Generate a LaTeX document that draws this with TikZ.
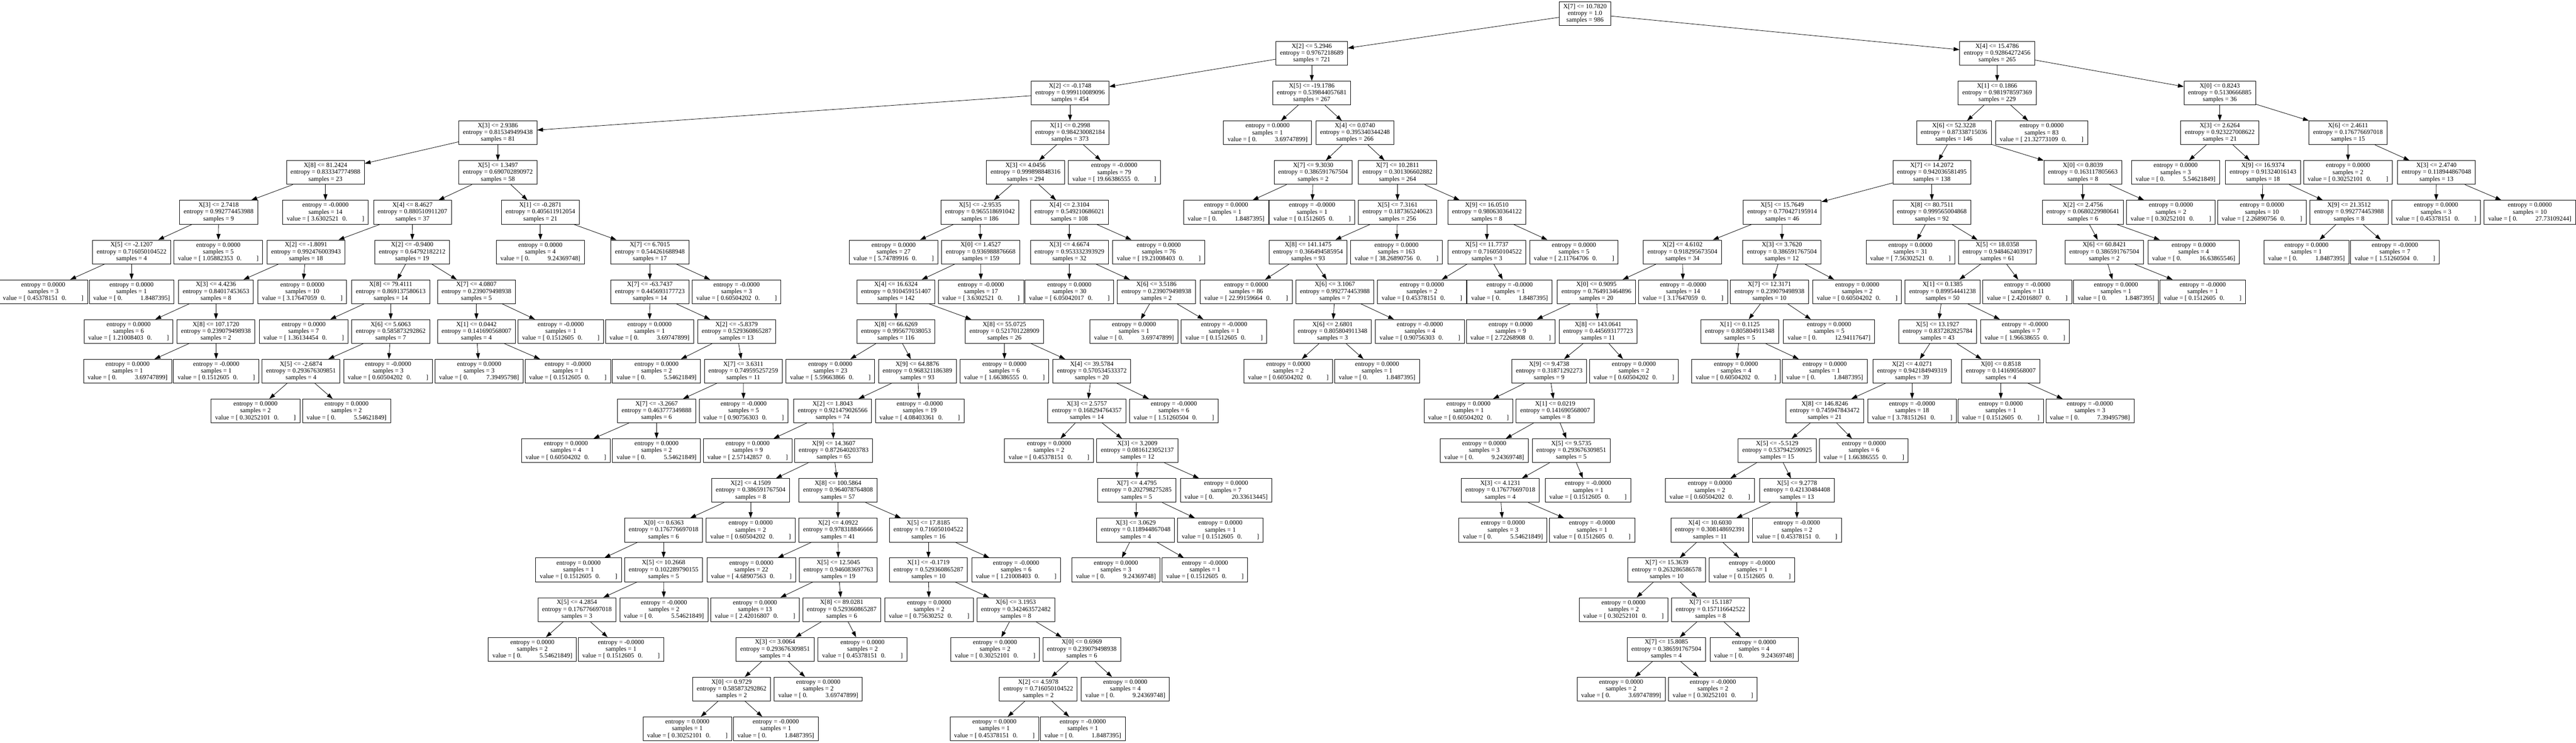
\documentclass[tikz,border=0pt]{standalone}
\usepackage{fontspec}
\setmainfont{Liberation Serif}
\usetikzlibrary{arrows.meta}

\newcommand{\spl}[3]{#1\\entropy = #2\\samples = #3}
\newcommand{\lfa}[3]{entropy = #1\\samples = #2\\value = [ #3\hspace{0.6em}0.\hspace{2.3em}]}
\newcommand{\lfb}[3]{entropy = #1\\samples = #2\\value = [ 0.\hspace{2.8em}#3]}

\tikzset{
  dtbox/.style={draw, line width=0.4pt, align=center, minimum height=0.71cm,
    inner xsep=3.5pt, inner ysep=0pt, font=\fontsize{5.45}{5.8}\selectfont},
  dtarrow/.style={-{Triangle[length=5pt,width=3.4pt]}, line width=0.35pt}
}

\begin{document}
\begin{tikzpicture}[x=0.01cm, y=-1.186cm]
     \fill[white] (0,-0.3415) rectangle (7694,18.352);
     \useasboundingbox (0,-0.3415) rectangle (7694,18.352);
     \node[dtbox] (n0) at (4734,0) {\spl{X[7] <= 10.7820}{1.0}{986}};
     \node[dtbox] (n1) at (3918,1) {\spl{X[2] <= 5.2946}{0.9767218689}{721}};
     \node[dtbox] (n2) at (3196,2) {\spl{X[2] <= -0.1748}{0.999110089096}{454}};
     \node[dtbox] (n3) at (1487,3) {\spl{X[3] <= 2.9386}{0.815349499438}{81}};
     \node[dtbox] (n4) at (972,4) {\spl{X[8] <= 81.2424}{0.833347774988}{23}};
     \node[dtbox] (n5) at (653,5) {\spl{X[3] <= 2.7418}{0.992774453988}{9}};
     \node[dtbox] (n6) at (393,6) {\spl{X[5] <= -2.1207}{0.716050104522}{4}};
     \node[dtbox] (n7) at (129,7) {\lfa{0.0000}{3}{0.45378151}};
     \node[dtbox] (n8) at (393,7) {\lfb{0.0000}{1}{1.8487395}};
     \node[dtbox] (n9) at (652,6) {\lfa{0.0000}{5}{1.05882353}};
     \node[dtbox] (n10) at (972,5) {\lfa{-0.0000}{14}{3.6302521}};
     \node[dtbox] (n11) at (1487,4) {\spl{X[5] <= 1.3497}{0.690702890972}{58}};
     \node[dtbox] (n12) at (1232,5) {\spl{X[4] <= 8.4627}{0.880510911207}{37}};
     \node[dtbox] (n13) at (914,6) {\spl{X[2] <= -1.8091}{0.992476003943}{18}};
     \node[dtbox] (n14) at (645,7) {\spl{X[3] <= 4.4236}{0.84017453653}{8}};
     \node[dtbox] (n15) at (384,8) {\lfa{0.0000}{6}{1.21008403}};
     \node[dtbox] (n16) at (645,8) {\spl{X[8] <= 107.1720}{0.239079498938}{2}};
     \node[dtbox] (n17) at (381,9) {\lfb{0.0000}{1}{3.69747899}};
     \node[dtbox] (n18) at (646,9) {\lfa{-0.0000}{1}{0.1512605}};
     \node[dtbox] (n19) at (903,7) {\lfa{0.0000}{10}{3.17647059}};
     \node[dtbox] (n20) at (1231,6) {\spl{X[2] <= -0.9400}{0.64792182212}{19}};
     \node[dtbox] (n21) at (1167,7) {\spl{X[8] <= 79.4111}{0.869137580613}{14}};
     \node[dtbox] (n22) at (907,8) {\lfa{0.0000}{7}{1.36134454}};
     \node[dtbox] (n23) at (1167,8) {\spl{X[6] <= 5.6063}{0.585873292862}{7}};
     \node[dtbox] (n24) at (899,9) {\spl{X[5] <= -2.6874}{0.293676309851}{4}};
     \node[dtbox] (n25) at (763,10) {\lfa{0.0000}{2}{0.30252101}};
     \node[dtbox] (n26) at (1035,10) {\lfb{0.0000}{2}{5.54621849}};
     \node[dtbox] (n27) at (1159,9) {\lfa{-0.0000}{3}{0.60504202}};
     \node[dtbox] (n28) at (1423,7) {\spl{X[7] <= 4.0807}{0.239079498938}{5}};
     \node[dtbox] (n29) at (1423,8) {\spl{X[1] <= 0.0442}{0.141690568007}{4}};
     \node[dtbox] (n30) at (1431,9) {\lfb{0.0000}{3}{7.39495798}};
     \node[dtbox] (n31) at (1696,9) {\lfa{-0.0000}{1}{0.1512605}};
     \node[dtbox] (n32) at (1675,8) {\lfa{-0.0000}{1}{0.1512605}};
     \node[dtbox] (n33) at (1614,5) {\spl{X[1] <= -0.2871}{0.405611912054}{21}};
     \node[dtbox] (n34) at (1614,6) {\lfb{0.0000}{4}{9.24369748}};
     \node[dtbox] (n35) at (1941,6) {\spl{X[7] <= 6.7015}{0.544261688948}{17}};
     \node[dtbox] (n36) at (1941,7) {\spl{X[7] <= -63.7437}{0.445693177723}{14}};
     \node[dtbox] (n37) at (1940,8) {\lfb{0.0000}{1}{3.69747899}};
     \node[dtbox] (n38) at (2200,8) {\spl{X[2] <= -5.8379}{0.529360865287}{13}};
     \node[dtbox] (n39) at (1961,9) {\lfb{0.0000}{2}{5.54621849}};
     \node[dtbox] (n40) at (2220,9) {\spl{X[7] <= 3.6311}{0.749595257259}{11}};
     \node[dtbox] (n41) at (1961,10) {\spl{X[7] <= -3.2667}{0.463777349888}{6}};
     \node[dtbox] (n42) at (1690,11) {\lfa{0.0000}{4}{0.60504202}};
     \node[dtbox] (n43) at (1961,11) {\lfb{0.0000}{2}{5.54621849}};
     \node[dtbox] (n44) at (2221,10) {\lfa{-0.0000}{5}{0.90756303}};
     \node[dtbox] (n45) at (2200,7) {\lfa{-0.0000}{3}{0.60504202}};
     \node[dtbox] (n46) at (3196,3) {\spl{X[1] <= 0.2998}{0.984230082184}{373}};
     \node[dtbox] (n47) at (3063,4) {\spl{X[3] <= 4.0456}{0.999898848316}{294}};
     \node[dtbox] (n48) at (2927,5) {\spl{X[5] <= -2.9535}{0.965518691042}{186}};
     \node[dtbox] (n49) at (2669,6) {\lfa{0.0000}{27}{5.74789916}};
     \node[dtbox] (n50) at (2929,6) {\spl{X[0] <= 1.4527}{0.936988876668}{159}};
     \node[dtbox] (n51) at (2676,7) {\spl{X[4] <= 16.6324}{0.910459151407}{142}};
     \node[dtbox] (n52) at (2676,8) {\spl{X[8] <= 66.6269}{0.995677038053}{116}};
     \node[dtbox] (n53) at (2480,9) {\lfa{0.0000}{23}{5.59663866}};
     \node[dtbox] (n54) at (2740,9) {\spl{X[9] <= 64.8876}{0.968321186389}{93}};
     \node[dtbox] (n55) at (2487,10) {\spl{X[2] <= 1.8043}{0.921479026566}{74}};
     \node[dtbox] (n56) at (2233,11) {\lfa{0.0000}{9}{2.57142857}};
     \node[dtbox] (n57) at (2490,11) {\spl{X[9] <= 14.3607}{0.872640203783}{65}};
     \node[dtbox] (n58) at (2242,12) {\spl{X[2] <= 4.1509}{0.386591767504}{8}};
     \node[dtbox] (n59) at (1982,13) {\spl{X[0] <= 0.6363}{0.176776697018}{6}};
     \node[dtbox] (n60) at (1728,14) {\lfa{0.0000}{1}{0.1512605}};
     \node[dtbox] (n61) at (1982,14) {\spl{X[5] <= 10.2668}{0.102289790155}{5}};
     \node[dtbox] (n62) at (1723,15) {\spl{X[5] <= 4.2854}{0.176776697018}{3}};
     \node[dtbox] (n63) at (1590,16) {\lfb{0.0000}{2}{5.54621849}};
     \node[dtbox] (n64) at (1855,16) {\lfa{-0.0000}{1}{0.1512605}};
     \node[dtbox] (n65) at (1983,15) {\lfb{-0.0000}{2}{5.54621849}};
     \node[dtbox] (n66) at (2242,13) {\lfa{0.0000}{2}{0.60504202}};
     \node[dtbox] (n67) at (2503,12) {\spl{X[8] <= 100.5864}{0.964078764808}{57}};
     \node[dtbox] (n68) at (2503,13) {\spl{X[2] <= 4.0922}{0.978318846666}{41}};
     \node[dtbox] (n69) at (2244,14) {\lfa{0.0000}{22}{4.68907563}};
     \node[dtbox] (n70) at (2504,14) {\spl{X[5] <= 12.5045}{0.946083697763}{19}};
     \node[dtbox] (n71) at (2255,15) {\lfa{0.0000}{13}{2.42016807}};
     \node[dtbox] (n72) at (2514,15) {\spl{X[8] <= 89.0281}{0.529360865287}{6}};
     \node[dtbox] (n73) at (2315,16) {\spl{X[3] <= 3.0064}{0.293676309851}{4}};
     \node[dtbox] (n74) at (2185,17) {\spl{X[0] <= 0.9729}{0.585873292862}{2}};
     \node[dtbox] (n75) at (2053,18) {\lfa{0.0000}{1}{0.30252101}};
     \node[dtbox] (n76) at (2317,18) {\lfb{-0.0000}{1}{1.8487395}};
     \node[dtbox] (n77) at (2444,17) {\lfb{0.0000}{2}{3.69747899}};
     \node[dtbox] (n78) at (2576,16) {\lfa{0.0000}{2}{0.45378151}};
     \node[dtbox] (n79) at (2773,13) {\spl{X[5] <= 17.8185}{0.716050104522}{16}};
     \node[dtbox] (n80) at (2773,14) {\spl{X[1] <= -0.1719}{0.529360865287}{10}};
     \node[dtbox] (n81) at (2775,15) {\lfa{0.0000}{2}{0.75630252}};
     \node[dtbox] (n82) at (3034,15) {\spl{X[6] <= 3.1953}{0.342463572482}{8}};
     \node[dtbox] (n83) at (2972,16) {\lfa{0.0000}{2}{0.30252101}};
     \node[dtbox] (n84) at (3231,16) {\spl{X[0] <= 0.6969}{0.239079498938}{6}};
     \node[dtbox] (n85) at (3101,17) {\spl{X[2] <= 4.5978}{0.716050104522}{2}};
     \node[dtbox] (n86) at (2970,18) {\lfa{0.0000}{1}{0.45378151}};
     \node[dtbox] (n87) at (3234,18) {\lfb{-0.0000}{1}{1.8487395}};
     \node[dtbox] (n88) at (3361,17) {\lfb{0.0000}{4}{9.24369748}};
     \node[dtbox] (n89) at (3035,14) {\lfa{-0.0000}{6}{1.21008403}};
     \node[dtbox] (n90) at (2747,10) {\lfa{-0.0000}{19}{4.08403361}};
     \node[dtbox] (n91) at (3000,8) {\spl{X[8] <= 55.0725}{0.521701228909}{26}};
     \node[dtbox] (n92) at (3000,9) {\lfa{0.0000}{6}{1.66386555}};
     \node[dtbox] (n93) at (3261,9) {\spl{X[4] <= 39.5784}{0.570534533372}{20}};
     \node[dtbox] (n94) at (3246,10) {\spl{X[3] <= 2.5757}{0.168294764357}{14}};
     \node[dtbox] (n95) at (3133,11) {\lfa{0.0000}{2}{0.45378151}};
     \node[dtbox] (n96) at (3397,11) {\spl{X[3] <= 3.2009}{0.0816123052137}{12}};
     \node[dtbox] (n97) at (3395,12) {\spl{X[7] <= 4.4795}{0.202798275285}{5}};
     \node[dtbox] (n98) at (3392,13) {\spl{X[3] <= 3.0629}{0.118944867048}{4}};
     \node[dtbox] (n99) at (3333,14) {\lfb{0.0000}{3}{9.24369748}};
     \node[dtbox] (n100) at (3599,14) {\lfa{-0.0000}{1}{0.1512605}};
     \node[dtbox] (n101) at (3645,13) {\lfa{0.0000}{1}{0.1512605}};
     \node[dtbox] (n102) at (3662,12) {\lfb{0.0000}{7}{20.33613445}};
     \node[dtbox] (n103) at (3506,10) {\lfa{-0.0000}{6}{1.51260504}};
     \node[dtbox] (n104) at (2930,7) {\lfa{-0.0000}{17}{3.6302521}};
     \node[dtbox] (n105) at (3194,5) {\spl{X[4] <= 2.3104}{0.549210686021}{108}};
     \node[dtbox] (n106) at (3194,6) {\spl{X[3] <= 4.6674}{0.953332393929}{32}};
     \node[dtbox] (n107) at (3194,7) {\lfa{0.0000}{30}{6.05042017}};
     \node[dtbox] (n108) at (3454,7) {\spl{X[6] <= 3.5186}{0.239079498938}{2}};
     \node[dtbox] (n109) at (3387,8) {\lfb{0.0000}{1}{3.69747899}};
     \node[dtbox] (n110) at (3656,8) {\lfa{-0.0000}{1}{0.1512605}};
     \node[dtbox] (n111) at (3461,6) {\lfa{0.0000}{76}{19.21008403}};
     \node[dtbox] (n112) at (3328,4) {\lfa{-0.0000}{79}{19.66386555}};
     \node[dtbox] (n113) at (3918,2) {\spl{X[5] <= -19.1786}{0.539844057681}{267}};
     \node[dtbox] (n114) at (3786,3) {\lfb{0.0000}{1}{3.69747899}};
     \node[dtbox] (n115) at (4047,3) {\spl{X[4] <= 0.0740}{0.395340344248}{266}};
     \node[dtbox] (n116) at (3922,4) {\spl{X[7] <= 9.3030}{0.386591767504}{2}};
     \node[dtbox] (n117) at (3662,5) {\lfb{0.0000}{1}{1.8487395}};
     \node[dtbox] (n118) at (3919,5) {\lfa{-0.0000}{1}{0.1512605}};
     \node[dtbox] (n119) at (4174,4) {\spl{X[7] <= 10.2811}{0.301306602882}{264}};
     \node[dtbox] (n120) at (4174,5) {\spl{X[5] <= 7.3161}{0.187365240623}{256}};
     \node[dtbox] (n121) at (3907,6) {\spl{X[8] <= 141.1475}{0.366494585954}{93}};
     \node[dtbox] (n122) at (3722,7) {\lfa{0.0000}{86}{22.99159664}};
     \node[dtbox] (n123) at (3987,7) {\spl{X[6] <= 3.1067}{0.992774453988}{7}};
     \node[dtbox] (n124) at (3980,8) {\spl{X[6] <= 2.6801}{0.805804911348}{3}};
     \node[dtbox] (n125) at (3848,9) {\lfa{0.0000}{2}{0.60504202}};
     \node[dtbox] (n126) at (4113,9) {\lfb{0.0000}{1}{1.8487395}};
     \node[dtbox] (n127) at (4241,8) {\lfa{-0.0000}{4}{0.90756303}};
     \node[dtbox] (n128) at (4171,6) {\lfa{0.0000}{163}{38.26890756}};
     \node[dtbox] (n129) at (4441,5) {\spl{X[9] <= 16.0510}{0.980630364122}{8}};
     \node[dtbox] (n130) at (4441,6) {\spl{X[5] <= 11.7737}{0.716050104522}{3}};
     \node[dtbox] (n131) at (4247,7) {\lfa{0.0000}{2}{0.45378151}};
     \node[dtbox] (n132) at (4509,7) {\lfb{-0.0000}{1}{1.8487395}};
     \node[dtbox] (n133) at (4701,6) {\lfa{0.0000}{5}{2.11764706}};
     \node[dtbox] (n134) at (5965,1) {\spl{X[4] <= 15.4786}{0.92864272456}{265}};
     \node[dtbox] (n135) at (5965,2) {\spl{X[1] <= 0.1866}{0.981978597369}{229}};
     \node[dtbox] (n136) at (5836,3) {\spl{X[6] <= 52.3228}{0.87338715036}{146}};
     \node[dtbox] (n137) at (5770,4) {\spl{X[7] <= 14.2072}{0.942036581495}{138}};
     \node[dtbox] (n138) at (5323,5) {\spl{X[5] <= 15.7649}{0.770427195914}{46}};
     \node[dtbox] (n139) at (5025,6) {\spl{X[2] <= 4.6102}{0.918295673504}{34}};
     \node[dtbox] (n140) at (4768,7) {\spl{X[0] <= 0.9095}{0.764913464896}{20}};
     \node[dtbox] (n141) at (4512,8) {\lfa{0.0000}{9}{2.72268908}};
     \node[dtbox] (n142) at (4773,8) {\spl{X[8] <= 143.0641}{0.445693177723}{11}};
     \node[dtbox] (n143) at (4627,9) {\spl{X[9] <= 9.4738}{0.31871292273}{9}};
     \node[dtbox] (n144) at (4386,10) {\lfa{0.0000}{1}{0.60504202}};
     \node[dtbox] (n145) at (4645,10) {\spl{X[1] <= 0.0219}{0.141690568007}{8}};
     \node[dtbox] (n146) at (4433,11) {\lfb{0.0000}{3}{9.24369748}};
     \node[dtbox] (n147) at (4693,11) {\spl{X[5] <= 9.5735}{0.293676309851}{5}};
     \node[dtbox] (n148) at (4481,12) {\spl{X[3] <= 4.1231}{0.176776697018}{4}};
     \node[dtbox] (n149) at (4489,13) {\lfb{0.0000}{3}{5.54621849}};
     \node[dtbox] (n150) at (4755,13) {\lfa{-0.0000}{1}{0.1512605}};
     \node[dtbox] (n151) at (4743,12) {\lfa{-0.0000}{1}{0.1512605}};
     \node[dtbox] (n152) at (4880,9) {\lfa{0.0000}{2}{0.60504202}};
     \node[dtbox] (n153) at (5027,7) {\lfa{-0.0000}{14}{3.17647059}};
     \node[dtbox] (n154) at (5322,6) {\spl{X[3] <= 3.7620}{0.386591767504}{12}};
     \node[dtbox] (n155) at (5285,7) {\spl{X[7] <= 12.3171}{0.239079498938}{10}};
     \node[dtbox] (n156) at (5196,8) {\spl{X[1] <= 0.1125}{0.805804911348}{5}};
     \node[dtbox] (n157) at (5185,9) {\lfa{0.0000}{4}{0.60504202}};
     \node[dtbox] (n158) at (5450,9) {\lfb{0.0000}{1}{1.8487395}};
     \node[dtbox] (n159) at (5463,8) {\lfb{0.0000}{5}{12.94117647}};
     \node[dtbox] (n160) at (5547,7) {\lfa{0.0000}{2}{0.60504202}};
     \node[dtbox] (n161) at (5770,5) {\spl{X[8] <= 80.7511}{0.999565004868}{92}};
     \node[dtbox] (n162) at (5706,6) {\lfa{0.0000}{31}{7.56302521}};
     \node[dtbox] (n163) at (5966,6) {\spl{X[5] <= 18.0358}{0.948462403917}{61}};
     \node[dtbox] (n164) at (5802,7) {\spl{X[1] <= 0.1385}{0.89954441238}{50}};
     \node[dtbox] (n165) at (5787,8) {\spl{X[5] <= 13.1927}{0.837282825784}{43}};
     \node[dtbox] (n166) at (5711,9) {\spl{X[2] <= 4.0271}{0.942184949319}{39}};
     \node[dtbox] (n167) at (5450,10) {\spl{X[8] <= 146.8246}{0.745947843472}{21}};
     \node[dtbox] (n168) at (5308,11) {\spl{X[5] <= -5.5129}{0.537942590925}{15}};
     \node[dtbox] (n169) at (5107,12) {\lfa{0.0000}{2}{0.60504202}};
     \node[dtbox] (n170) at (5367,12) {\spl{X[5] <= 9.2778}{0.42130484408}{13}};
     \node[dtbox] (n171) at (5107,13) {\spl{X[4] <= 10.6030}{0.308148692391}{11}};
     \node[dtbox] (n172) at (4978,14) {\spl{X[7] <= 15.3639}{0.263286586578}{10}};
     \node[dtbox] (n173) at (4849,15) {\lfa{0.0000}{2}{0.30252101}};
     \node[dtbox] (n174) at (5109,15) {\spl{X[7] <= 15.1187}{0.157116642522}{8}};
     \node[dtbox] (n175) at (4977,16) {\spl{X[7] <= 15.8085}{0.386591767504}{4}};
     \node[dtbox] (n176) at (4842,17) {\lfb{0.0000}{2}{3.69747899}};
     \node[dtbox] (n177) at (5116,17) {\lfa{-0.0000}{2}{0.30252101}};
     \node[dtbox] (n178) at (5239,16) {\lfb{0.0000}{4}{9.24369748}};
     \node[dtbox] (n179) at (5233,14) {\lfa{-0.0000}{1}{0.1512605}};
     \node[dtbox] (n180) at (5367,13) {\lfa{-0.0000}{2}{0.45378151}};
     \node[dtbox] (n181) at (5567,11) {\lfa{0.0000}{6}{1.66386555}};
     \node[dtbox] (n182) at (5711,10) {\lfa{-0.0000}{18}{3.78151261}};
     \node[dtbox] (n183) at (5976,9) {\spl{X[0] <= 0.8518}{0.141690568007}{4}};
     \node[dtbox] (n184) at (5976,10) {\lfa{0.0000}{1}{0.1512605}};
     \node[dtbox] (n185) at (6242,10) {\lfb{-0.0000}{3}{7.39495798}};
     \node[dtbox] (n186) at (6048,8) {\lfa{-0.0000}{7}{1.96638655}};
     \node[dtbox] (n187) at (6055,7) {\lfa{-0.0000}{11}{2.42016807}};
     \node[dtbox] (n188) at (6221,4) {\spl{X[0] <= 0.8039}{0.163117805663}{8}};
     \node[dtbox] (n189) at (6221,5) {\spl{X[2] <= 2.4756}{0.0680229980641}{6}};
     \node[dtbox] (n190) at (6285,6) {\spl{X[6] <= 60.8421}{0.386591767504}{2}};
     \node[dtbox] (n191) at (6320,7) {\lfb{0.0000}{1}{1.8487395}};
     \node[dtbox] (n192) at (6579,7) {\lfa{-0.0000}{1}{0.1512605}};
     \node[dtbox] (n193) at (6552,6) {\lfb{0.0000}{4}{16.63865546}};
     \node[dtbox] (n194) at (6484,5) {\lfa{0.0000}{2}{0.30252101}};
     \node[dtbox] (n195) at (6098,3) {\lfa{0.0000}{83}{21.32773109}};
     \node[dtbox] (n196) at (6630,2) {\spl{X[0] <= 0.8243}{0.5130666885}{36}};
     \node[dtbox] (n197) at (6630,3) {\spl{X[3] <= 2.6264}{0.923227008622}{21}};
     \node[dtbox] (n198) at (6498,4) {\lfb{0.0000}{3}{5.54621849}};
     \node[dtbox] (n199) at (6759,4) {\spl{X[9] <= 16.9374}{0.91324016143}{18}};
     \node[dtbox] (n200) at (6756,5) {\lfa{0.0000}{10}{2.26890756}};
     \node[dtbox] (n201) at (7016,5) {\spl{X[9] <= 21.3512}{0.992774453988}{8}};
     \node[dtbox] (n202) at (6889,6) {\lfb{0.0000}{1}{1.8487395}};
     \node[dtbox] (n203) at (7153,6) {\lfa{-0.0000}{7}{1.51260504}};
     \node[dtbox] (n204) at (7013,3) {\spl{X[6] <= 2.4611}{0.176776697018}{15}};
     \node[dtbox] (n205) at (7013,4) {\lfa{0.0000}{2}{0.30252101}};
     \node[dtbox] (n206) at (7277,4) {\spl{X[3] <= 2.4740}{0.118944867048}{13}};
     \node[dtbox] (n207) at (7276,5) {\lfa{0.0000}{3}{0.45378151}};
     \node[dtbox] (n208) at (7556,5) {\lfb{0.0000}{10}{27.73109244}};
     \foreach \a/\b in {0/1,0/134,1/2,1/113,2/3,2/46,3/4,3/11,4/5,4/10,5/6,5/9,6/7,6/8,
       11/12,11/33,12/13,12/20,13/14,13/19,14/15,14/16,16/17,16/18,20/21,20/28,
       21/22,21/23,23/24,23/27,24/25,24/26,28/29,28/32,29/30,29/31,33/34,33/35,
       35/36,35/45,36/37,36/38,38/39,38/40,40/41,40/44,41/42,41/43,
       46/47,46/112,47/48,47/105,48/49,48/50,50/51,50/104,51/52,51/91,52/53,52/54,
       54/55,54/90,55/56,55/57,57/58,57/67,58/59,58/66,59/60,59/61,61/62,61/65,
       62/63,62/64,67/68,67/79,68/69,68/70,70/71,70/72,72/73,72/78,73/74,73/77,
       74/75,74/76,79/80,79/89,80/81,80/82,82/83,82/84,84/85,84/88,85/86,85/87,
       91/92,91/93,93/94,93/103,94/95,94/96,96/97,96/102,97/98,97/101,98/99,98/100,
       105/106,105/111,106/107,106/108,108/109,108/110,
       113/114,113/115,115/116,115/119,116/117,116/118,119/120,119/129,
       120/121,120/128,121/122,121/123,123/124,123/127,124/125,124/126,
       129/130,129/133,130/131,130/132,
       134/135,134/196,135/136,135/195,136/137,136/188,137/138,137/161,
       138/139,138/154,139/140,139/153,140/141,140/142,142/143,142/152,
       143/144,143/145,145/146,145/147,147/148,147/151,148/149,148/150,
       154/155,154/160,155/156,155/159,156/157,156/158,
       161/162,161/163,163/164,163/187,164/165,164/186,165/166,165/183,
       166/167,166/182,167/168,167/181,168/169,168/170,170/171,170/180,
       171/172,171/179,172/173,172/174,174/175,174/178,175/176,175/177,
       183/184,183/185,188/189,188/194,189/190,189/193,190/191,190/192,
       196/197,196/204,197/198,197/199,199/200,199/201,201/202,201/203,
       204/205,204/206,206/207,206/208}
       \draw[dtarrow] (n\a) -- (n\b);
\end{tikzpicture}
\end{document}
